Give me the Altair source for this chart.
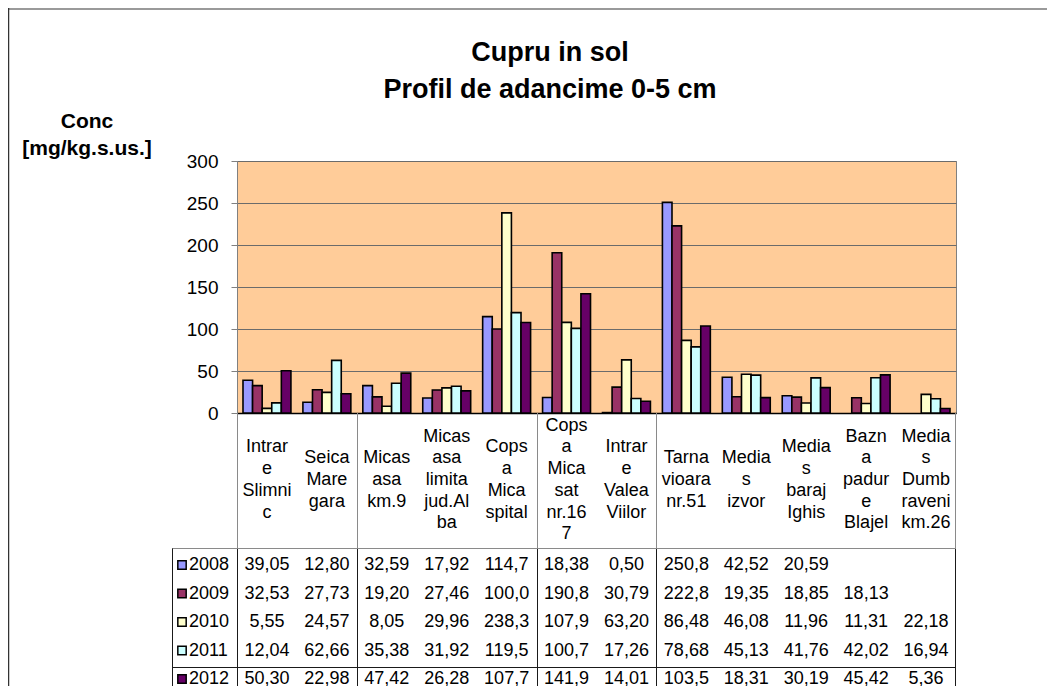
import altair as alt
import pandas as pd

# ---------------- data ----------------
cat_lines = [
    ["Intrar", "e", "Slimni", "c"],
    ["Seica", "Mare", "gara"],
    ["Micas", "asa", "km.9"],
    ["Micas", "asa", "limita", "jud.Al", "ba"],
    ["Cops", "a", "Mica", "spital"],
    ["Cops", "a", "Mica", "sat", "nr.16", "7"],
    ["Intrar", "e", "Valea", "Viilor"],
    ["Tarna", "vioara", "nr.51"],
    ["Media", "s", "izvor"],
    ["Media", "s", "baraj", "Ighis"],
    ["Bazn", "a", "padur", "e", "Blajel"],
    ["Media", "s", "Dumb", "raveni", "km.26"],
]
years = ["2008", "2009", "2010", "2011", "2012"]
v2008 = [39.05, 12.80, 32.59, 17.92, 114.7, 18.38, 0.50, 250.8, 42.52, 20.59, None, None]
v2009 = [32.53, 27.73, 19.20, 27.46, 100.0, 190.8, 30.79, 222.8, 19.35, 18.85, 18.13, None]
v2010 = [5.55, 24.57, 8.05, 29.96, 238.3, 107.9, 63.20, 86.48, 46.08, 11.96, 11.31, 22.18]
v2011 = [12.04, 62.66, 35.38, 31.92, 119.5, 100.7, 17.26, 78.68, 45.13, 41.76, 42.02, 16.94]
v2012 = [50.30, 22.98, 47.42, 26.28, 107.7, 141.9, 14.01, 103.5, 18.31, 30.19, 45.42, 5.36]
series = [v2008, v2009, v2010, v2011, v2012]
colors = ["#9999FF", "#993366", "#FFFFCC", "#CCFFFF", "#660066"]
y_ticks = [0, 50, 100, 150, 200, 250, 300]
title_lines = ["Cupru in sol", "Profil de adancime 0-5 cm"]
ytitle_lines = ["Conc", "[mg/kg.s.us.]"]

# ---------------- tables ----------------
cats = ["".join(l) for l in cat_lines]


def fmt(v):
    s = f"{v:.1f}" if v >= 100 else f"{v:.2f}"
    return s.replace(".", ",")


rows = []
for yr, vals in zip(years, series):
    for c, v in zip(cats, vals):
        if v is not None:
            rows.append({"cat": c, "year": yr, "value": v, "label": fmt(v)})
df = pd.DataFrame(rows)
df_cat = pd.DataFrame({"cat": cats,
                       "header": ["|".join(l) for l in cat_lines],
                       "n": [len(l) for l in cat_lines]})
df_year = pd.DataFrame({"year": years})

FONT = "Liberation Sans"
W, H = 719, 252
STEP = W / len(cats)
LH = 21.7
HDR_MID = 319

x_enc = alt.X("cat:N", sort=cats,
              scale=alt.Scale(domain=cats, paddingInner=0.2, paddingOuter=0.1),
              axis=alt.Axis(labels=False, ticks=False, grid=False, title=None,
                            domainColor="#000000", domainWidth=1.5))
color_enc = alt.Color("year:N", scale=alt.Scale(domain=years, range=colors), legend=None)
row_y = alt.Y("year:O", scale=alt.Scale(type="point", domain=years, range=[404, 518], padding=0),
              axis=None)

bars = alt.Chart(df).mark_bar(stroke="#000000", strokeWidth=1.6).encode(
    x=x_enc,
    xOffset=alt.XOffset("year:N", sort=years,
                        scale=alt.Scale(domain=years, paddingInner=0, paddingOuter=0)),
    y=alt.Y("value:Q", scale=alt.Scale(domain=[0, 300], nice=False),
            axis=alt.Axis(values=y_ticks, title=None, grid=True, gridColor="#6b6b6b",
                          gridWidth=1, domainColor="#808080", tickColor="#808080",
                          tickSize=6, labelPadding=13, labelFontSize=19, labelFont=FONT,
                          labelColor="#000000")),
    color=color_enc,
)

header_layers = []
for n in sorted(set(df_cat["n"])):
    header_layers.append(
        alt.Chart(df_cat).transform_filter(alt.datum.n == n).mark_text(
            lineBreak="|", baseline="middle", align="center", fontSize=18, lineHeight=LH,
            font=FONT, color="#000000"
        ).encode(x=alt.X("cat:N", sort=cats),
                 y=alt.value(HDR_MID - (n - 1) * LH / 2),
                 text="header:N")
    )

values = alt.Chart(df).mark_text(
    baseline="middle", align="center", fontSize=18, font=FONT, color="#000000"
).encode(x=alt.X("cat:N", sort=cats), y=row_y, text="label:N")

swatches = alt.Chart(df_year).mark_square(
    size=70, stroke="#000000", strokeWidth=1.5, opacity=1
).encode(x=alt.value(-55), y=row_y, fill=color_enc)

year_text = alt.Chart(df_year).mark_text(
    baseline="middle", align="left", fontSize=18, font=FONT, color="#000000"
).encode(x=alt.value(-48), y=row_y, text="year:N")


def txt(s, x, y, size, bold=True):
    return alt.Chart(alt.Data(values=[{"t": s}])).mark_text(
        baseline="middle", align="center", fontSize=size, font=FONT,
        fontWeight="bold" if bold else "normal", color="#000000"
    ).encode(x=alt.value(x), y=alt.value(y), text="t:N")


def hline(x1, x2, y, color, w=1.0):
    return alt.Chart(alt.Data(values=[{}])).mark_rule(color=color, strokeWidth=w).encode(
        x=alt.value(x1), x2=alt.value(x2), y=alt.value(y))


def vline(x, y1, y2, color, w=1.0):
    return alt.Chart(alt.Data(values=[{}])).mark_rule(color=color, strokeWidth=w).encode(
        x=alt.value(x), y=alt.value(y1), y2=alt.value(y2))


HDR_BOT = 387.5
ROW_LINE = 506.5
BOTTOM = 545
lines = []
for k in [0, 2, 5, 7, 12]:
    xx = round(k * STEP) + 0.5 if k not in (0, 12) else (0.5 if k == 0 else W - 0.5)
    lines.append(vline(xx, H, HDR_BOT, "#8a8a8a"))
    lines.append(vline(xx, HDR_BOT, BOTTOM, "#1a1a1a"))
lines.append(hline(-65, W, HDR_BOT, "#8a8a8a"))
lines.append(hline(-65, W, ROW_LINE, "#1a1a1a"))
lines.append(vline(-64.5, HDR_BOT, BOTTOM, "#1a1a1a"))
# outer chart frame
lines.append(hline(-229, 820, -152, "#9a9a9a", 2))
lines.append(vline(-228.5, -153, BOTTOM, "#333333", 1.5))

texts = [
    txt(title_lines[0], 313, -108, 27),
    txt(title_lines[1], 313, -71, 27),
    txt(ytitle_lines[0], -150, -39, 21),
    txt(ytitle_lines[1], -150, -12, 21),
]

chart = alt.layer(bars, *header_layers, values, swatches, year_text, *lines, *texts).resolve_scale(
    y="independent"
).properties(
    width=W, height=H,
    autosize=alt.AutoSizeParams(type="none"),
    padding={"left": 229, "top": 153, "right": 91, "bottom": 273},
    background="#ffffff",
).configure_view(fill="#FFCC99", stroke="#808080", strokeWidth=1)

chart.save("out.html", embed_options={"renderer": "svg", "actions": False})
